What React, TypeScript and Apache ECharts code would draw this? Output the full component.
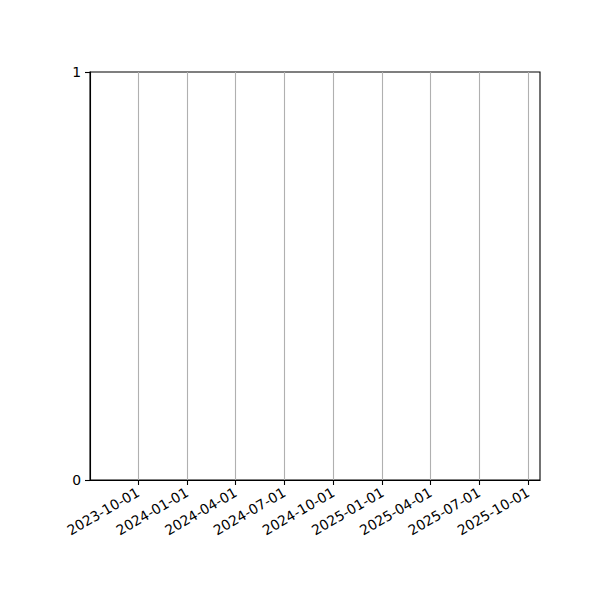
import { useEffect, useRef } from 'react';
import * as echarts from 'echarts';

// x range and quarterly ticks (UTC dates)
const xRange = ['2023-07-03', '2025-10-23'];
const tickDates = [
  '2023-10-01',
  '2024-01-01',
  '2024-04-01',
  '2024-07-01',
  '2024-10-01',
  '2025-01-01',
  '2025-04-01',
  '2025-07-01',
  '2025-10-01',
];
const yTicks = [0, 1];

const toTs = (s: string) => {
  const [y, m, d] = s.split('-').map(Number);
  return Date.UTC(y, m - 1, d);
};

const fmt = (v: number) => {
  const d = new Date(v);
  const p = (n: number) => String(n).padStart(2, '0');
  return `${d.getUTCFullYear()}-${p(d.getUTCMonth() + 1)}-${p(d.getUTCDate())}`;
};

export default function App() {
  const chartRef = useRef<HTMLDivElement>(null);

  useEffect(() => {
    if (!chartRef.current) return;
    const chart = echarts.init(chartRef.current, null, { renderer: 'svg' });
    const ticks = tickDates.map(toTs);
    const font = { fontFamily: 'DejaVu Sans', fontSize: 13.9, color: '#000' };

    const option: echarts.EChartsOption = {
      animation: false,
      grid: {
        left: 90,
        right: 60,
        top: 72,
        bottom: 120,
        show: true,
        borderColor: '#000',
        borderWidth: 1.1,
        backgroundColor: 'transparent',
      },
      xAxis: {
        type: 'value',
        min: toTs(xRange[0]),
        max: toTs(xRange[1]),
        axisLine: { show: true, lineStyle: { color: '#000', width: 1.1 } },
        axisTick: { show: true, length: 5, lineStyle: { color: '#000', width: 1.1 }, customValues: ticks },
        axisLabel: {
          ...font,
          rotate: 30,
          margin: 11,
          customValues: ticks,
          formatter: (v: number) => fmt(v),
        },
        splitLine: { show: false },
      },
      yAxis: {
        type: 'value',
        min: yTicks[0],
        max: yTicks[yTicks.length - 1],
        interval: 1,
        axisLine: { show: true, lineStyle: { color: '#000', width: 1.1 } },
        axisTick: { show: true, length: 5, lineStyle: { color: '#000', width: 1.1 } },
        axisLabel: { ...font, margin: 9 },
        splitLine: { show: false },
      },
      series: [
        {
          type: 'line',
          data: [],
          markLine: {
            silent: true,
            symbol: 'none',
            label: { show: false },
            lineStyle: { color: '#b0b0b0', width: 1.1, type: 'solid' },
            data: ticks.map((t) => ({ xAxis: t })),
          },
        },
      ],
    };

    chart.setOption(option);
    return () => chart.dispose();
  }, []);

  return (
    <div
      ref={chartRef}
      style={{ position: 'fixed', left: 0, top: 0, width: 600, height: 600, background: '#fff' }}
    />
  );
}
